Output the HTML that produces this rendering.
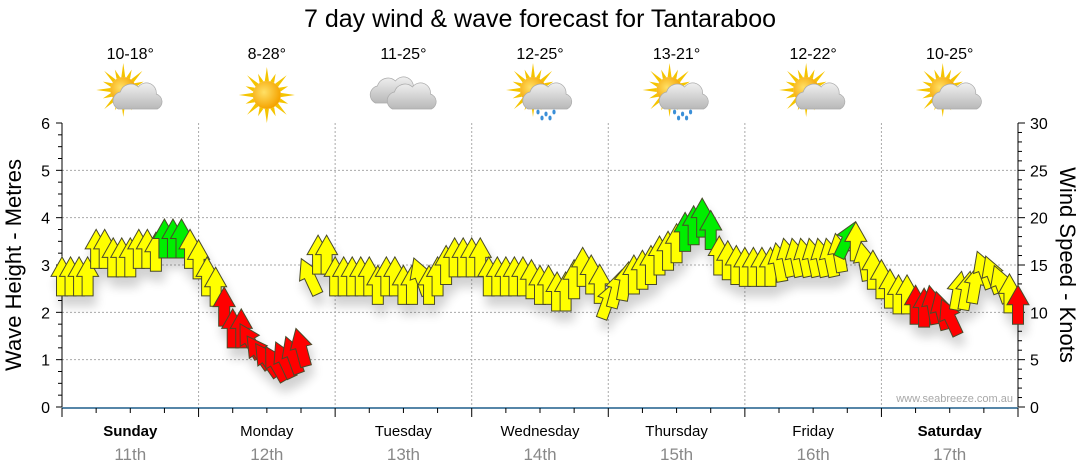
<!DOCTYPE html>
<html><head><meta charset="utf-8"><style>
html,body{margin:0;padding:0;background:#fff;}
svg{display:block;font-family:"Liberation Sans",sans-serif;}
</style></head><body>
<svg id="chart" width="1080" height="475" viewBox="0 0 1080 475">
<defs>
<filter id="sh" x="-50%" y="-50%" width="200%" height="200%"><feGaussianBlur in="SourceAlpha" stdDeviation="5"/><feOffset dx="3" dy="10"/><feComponentTransfer><feFuncA type="linear" slope="0.18"/></feComponentTransfer><feMerge><feMergeNode/><feMergeNode in="SourceGraphic"/></feMerge></filter>
<radialGradient id="sunG" cx="0.4" cy="0.4" r="0.6"><stop offset="0" stop-color="#ffe066"/><stop offset="1" stop-color="#f5a300"/></radialGradient>
<linearGradient id="cloudG" x1="0" y1="0" x2="0" y2="1"><stop offset="0" stop-color="#f0f0f0"/><stop offset="1" stop-color="#b8b8b8"/></linearGradient>
</defs>
<text x="540" y="27" text-anchor="middle" font-size="25" fill="#000">7 day wind &amp; wave forecast for Tantaraboo</text>
<g id="grid"></g>
<g id="axes"></g>
<g id="icons"></g>
<g id="arrows" filter="url(#sh)"></g>
<text x="1013" y="402" text-anchor="end" font-size="11" fill="#a8a8a8">www.seabreeze.com.au</text>
<text transform="translate(21,265) rotate(-90)" text-anchor="middle" font-size="22" fill="#000">Wave Height - Metres</text>
<text transform="translate(1060,265) rotate(90)" text-anchor="middle" font-size="22" fill="#000">Wind Speed - Knots</text>
</svg>
<script>
const days = ["Sunday","Monday","Tuesday","Wednesday","Thursday","Friday","Saturday"];
const dates = ["11th","12th","13th","14th","15th","16th","17th"];
const boldDays = [true,false,false,false,false,false,true];
const temps = ["10-18°","8-28°","11-25°","12-25°","13-21°","12-22°","10-25°"];
const icons = ["suncloud","sun","cloud","rain","rain","suncloud","suncloud"];
const waveTicks = [0,1,2,3,4,5,6];
const windTicks = [0,5,10,15,20,25,30];
// wind speed (knots) every 1.5 hours from Sunday 00:00
const windSpeed = [
13.8,13.8,13.8,13.8,16.7,16.7,15.8,15.8,15.8,16.7,16.7,16.4,17.8,17.8,17.8,16.7,
15.6,13.8,12.7,10.6,8.3,8.3,7.0,5.8,5.0,4.6,5.0,5.5,6.3,13.8,16.1,16.1,
13.8,13.8,13.8,13.8,13.8,12.9,13.8,13.8,12.9,12.9,13.8,12.9,13.8,15.0,15.8,15.8,
15.8,15.8,13.8,13.8,13.8,13.8,13.8,13.5,12.9,12.9,12.2,12.2,13.5,14.8,14.0,13.0,
11.3,12.5,13.3,14.0,14.5,15.0,16.0,16.5,17.3,18.5,19.2,20.0,18.7,16.0,15.5,15.0,
14.8,14.8,14.8,14.8,15.3,15.8,15.8,15.8,15.8,15.8,15.8,16.3,17.7,17.5,15.4,14.5,
13.5,12.5,11.9,11.9,10.8,10.5,10.8,10.2,9.5,12.3,12.3,13.0,14.5,14.0,13.0,12.0,
10.8];
// arrow rotation (degrees from up)
const windDir = [
0,0,0,0,0,0,0,0,0,0,0,0,0,0,0,0,
0,0,0,0,0,0,-30,-35,-35,-30,-25,-20,-15,-25,0,0,
0,0,0,0,0,0,0,0,0,0,-20,0,0,0,0,0,
0,0,0,0,0,0,0,0,0,0,0,0,0,0,0,0,
20,15,10,0,0,0,0,0,0,0,0,0,0,0,0,0,
0,0,0,0,-10,-12,-12,-12,-12,-12,-12,-10,25,0,-10,0,
0,0,0,0,0,0,-10,-15,-25,10,10,10,-20,-20,-20,0,
0];
// colour category: y=yellow, g=green, r=red
const windCat = [
"y","y","y","y","y","y","y","y","y","y","y","y","g","g","g","y",
"y","y","y","r","r","r","r","r","r","r","r","r","r","y","y","y",
"y","y","y","y","y","y","y","y","y","y","y","y","y","y","y","y",
"y","y","y","y","y","y","y","y","y","y","y","y","y","y","y","y",
"y","y","y","y","y","y","y","y","y","g","g","g","g","y","y","y",
"y","y","y","y","y","y","y","y","y","y","y","y","g","y","y","y",
"y","y","y","y","r","r","r","r","r","y","y","y","y","y","y","y",
"r"];
const catColor = {y:"#ffff00",g:"#00ee00",r:"#ff0000"};

const NS="http://www.w3.org/2000/svg";
const X0=62,X1=1018,Y0=407,Y1=123;
const xT = h => X0 + (X1-X0)*h/168;
const yWave = m => Y0 - (Y0-Y1)*m/6;
const yWind = k => Y0 - (Y0-Y1)*k/30;
function mk(tag,attrs,parent){const e=document.createElementNS(NS,tag);for(const k in attrs)e.setAttribute(k,attrs[k]);parent.appendChild(e);return e;}
const grid=document.getElementById('grid'),axes=document.getElementById('axes'),icg=document.getElementById('icons'),arr=document.getElementById('arrows');

for(let i=1;i<waveTicks.length-1;i++){
  const g=mk('line',{x1:X0,x2:X1,y1:yWave(waveTicks[i]),y2:yWave(waveTicks[i]),stroke:'#aaa','stroke-dasharray':'2,2'},grid);
  
  
}
for(let d=1;d<7;d++){
  const g=mk('line',{x1:xT(d*24),x2:xT(d*24),y1:Y1,y2:Y0,stroke:'#aaa','stroke-dasharray':'2,2'},grid);
  
  
}
mk('line',{x1:X0,x2:X0,y1:Y1,y2:Y0,stroke:'#000'},axes);
for(let v=0;v<=24;v++){const y=yWave(v/4);mk('line',{x1:v%4==0?56:58,x2:X0,y1:y,y2:y,stroke:'#000'},axes);}
waveTicks.forEach(v=>{
  const t=mk('text',{x:50,y:yWave(v)+6,'text-anchor':'end','font-size':16,fill:'#000'},axes);t.textContent=v;
  
  
});
mk('line',{x1:X1,x2:X1,y1:Y1,y2:Y0,stroke:'#000'},axes);
for(let v=0;v<=30;v++){const y=yWind(v);mk('line',{x1:X1,x2:v%5==0?1025:1022,y1:y,y2:y,stroke:'#000'},axes);}
windTicks.forEach(v=>{
  const t=mk('text',{x:1030,y:yWind(v)+6,'font-size':16,fill:'#000'},axes);t.textContent=v;
  
  
});
mk('line',{x1:X0,x2:X1,y1:Y0+1,y2:Y0+1,stroke:'#1f5f8b','stroke-width':1.5},axes);
for(let h=0;h<=168;h+=6){const x=xT(h);mk('line',{x1:x,x2:x,y1:Y0+1,y2:Y0+(h%24==0?10:6),stroke:'#000'},axes);}
days.forEach((d,i)=>{
  const cx=xT(i*24+12);
  const t=mk('text',{x:cx,y:436,'text-anchor':'middle','font-size':15,fill:'#000','font-weight':boldDays[i]?'bold':'normal'},axes);t.textContent=d;
  
  
  const t2=mk('text',{x:cx,y:460,'text-anchor':'middle','font-size':17,fill:'#888'},axes);t2.textContent=dates[i];
  
  
  const t3=mk('text',{x:cx,y:59,'text-anchor':'middle','font-size':16,fill:'#000'},axes);t3.textContent=temps[i];
  
  
  drawIcon(icons[i],cx,95);
});
function sun(cx,cy,r,g){
  for(let a=0;a<16;a++){const an=a*Math.PI/8,L=a%2?r+9:r+14;
    mk('polygon',{points:`${cx+Math.cos(an)*L},${cy+Math.sin(an)*L} ${cx+Math.cos(an+0.15)*r},${cy+Math.sin(an+0.15)*r} ${cx+Math.cos(an-0.15)*r},${cy+Math.sin(an-0.15)*r}`,fill:'#f5c400'},g);}
  mk('circle',{cx,cy,r,fill:'url(#sunG)'},g);
}
function cloud(cx,cy,g){
  const p=`M${cx-20},${cy+11} a9,9 0 0 1 2,-17 a11,11 0 0 1 18,-5 a10,10 0 0 1 18,7 a8,8 0 0 1 1,15 z`;
  mk('path',{d:p,fill:'url(#cloudG)',stroke:'#aaa','stroke-width':0.7},g);
}
function drawIcon(type,cx,cy){
  const g=mk('g',{},icg);
  
  
  if(type==='sun'){sun(cx,cy,14,g);}
  else if(type==='cloud'){cloud(cx-8,cy-3,g);cloud(cx+9,cy+3,g);}
  else {sun(cx-7,cy-5,13,g);cloud(cx+8,cy+3,g);
    if(type==='rain'){[[-2,17],[6,19],[14,17],[2,23],[10,23]].forEach(p=>mk('ellipse',{cx:cx+p[0],cy:cy+p[1],rx:1.6,ry:2.4,fill:'#3a8fd8'},g));}}
}
windSpeed.forEach((k,i)=>{
  const x=xT(i*1.5), y=yWind(k);
  const p=mk('polygon',{points:'0,-19.5 11,0 5.5,0 5.5,19.5 -5.5,19.5 -5.5,0 -11,0',fill:catColor[windCat[i]],stroke:'#4a4a2a','stroke-width':1,'stroke-linejoin':'miter',transform:`translate(${x},${y}) rotate(${windDir[i]})`},arr);
  
  
});
</script>
</body></html>
